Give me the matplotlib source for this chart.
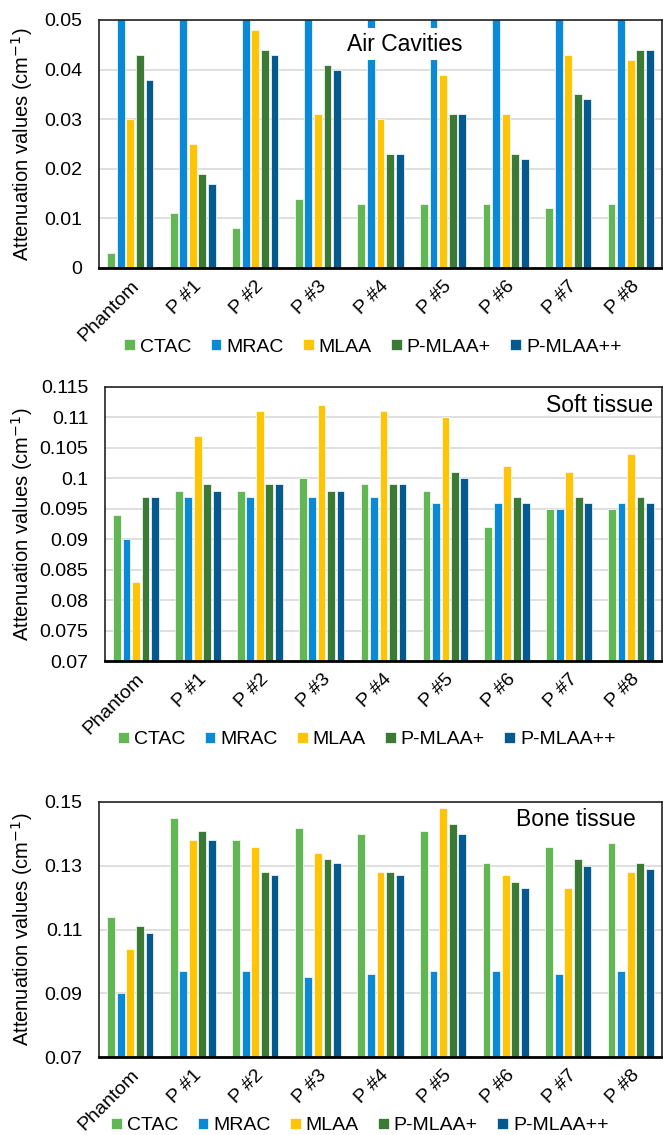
import numpy as np
import matplotlib
matplotlib.use("Agg")
import matplotlib.pyplot as plt

plt.rcParams['font.family'] = ['Liberation Sans', 'DejaVu Sans']

categories = ["Phantom", "P #1", "P #2", "P #3", "P #4", "P #5", "P #6", "P #7", "P #8"]
methods = ["CTAC", "MRAC", "MLAA", "P-MLAA+", "P-MLAA++"]
colors = ["#62B653", "#0A8AD6", "#FFC405", "#3B7A35", "#04598E"]

# air cavities (MRAC runs off the top of the axis)
air_ctac = [0.003, 0.011, 0.008, 0.014, 0.013, 0.013, 0.013, 0.012, 0.013]
air_mrac = [0.09, 0.09, 0.09, 0.09, 0.09, 0.09, 0.09, 0.09, 0.09]
air_mlaa = [0.030, 0.025, 0.048, 0.031, 0.030, 0.039, 0.031, 0.043, 0.042]
air_pmlaa = [0.043, 0.019, 0.044, 0.041, 0.023, 0.031, 0.023, 0.035, 0.044]
air_pmlaa2 = [0.038, 0.017, 0.043, 0.040, 0.023, 0.031, 0.022, 0.034, 0.044]

soft_ctac = [0.094, 0.098, 0.098, 0.100, 0.099, 0.098, 0.092, 0.095, 0.095]
soft_mrac = [0.090, 0.097, 0.097, 0.097, 0.097, 0.096, 0.096, 0.095, 0.096]
soft_mlaa = [0.083, 0.107, 0.111, 0.112, 0.111, 0.110, 0.102, 0.101, 0.104]
soft_pmlaa = [0.097, 0.099, 0.099, 0.098, 0.099, 0.101, 0.097, 0.097, 0.097]
soft_pmlaa2 = [0.097, 0.098, 0.099, 0.098, 0.099, 0.100, 0.096, 0.096, 0.096]

bone_ctac = [0.114, 0.145, 0.138, 0.142, 0.140, 0.141, 0.131, 0.136, 0.137]
bone_mrac = [0.090, 0.097, 0.097, 0.095, 0.096, 0.097, 0.097, 0.096, 0.097]
bone_mlaa = [0.104, 0.138, 0.136, 0.134, 0.128, 0.148, 0.127, 0.123, 0.128]
bone_pmlaa = [0.111, 0.141, 0.128, 0.132, 0.128, 0.143, 0.125, 0.132, 0.131]
bone_pmlaa2 = [0.109, 0.138, 0.127, 0.131, 0.127, 0.140, 0.123, 0.130, 0.129]

panels = [
    dict(data=[air_ctac, air_mrac, air_mlaa, air_pmlaa, air_pmlaa2],
         ylim=(0, 0.05), ticks=np.arange(0, 0.0501, 0.01),
         rect=[99/663, 1-268/1135, 563/663, 248/1135],
         title="Air Cavities", tpos=(0.5435, 0.903), ha='center', box=True,
         leg=(373/663, 1-347/1135)),
    dict(data=[soft_ctac, soft_mrac, soft_mlaa, soft_pmlaa, soft_pmlaa2],
         ylim=(0.07, 0.115), ticks=np.arange(0.07, 0.1151, 0.005),
         rect=[105/663, 1-661/1135, 557/663, 274/1135],
         title="Soft tissue", tpos=(0.984, 0.934), ha='right', box=False,
         leg=(367/663, 1-740/1135)),
    dict(data=[bone_ctac, bone_mrac, bone_mlaa, bone_pmlaa, bone_pmlaa2],
         ylim=(0.07, 0.15), ticks=np.arange(0.07, 0.1501, 0.02),
         rect=[99/663, 1-1057/1135, 563/663, 255/1135],
         title="Bone tissue", tpos=(0.953, 0.93), ha='right', box=False,
         leg=(360/663, 1-1126/1135)),
]

fig = plt.figure(figsize=(6.63, 11.35), dpi=100)
x = np.arange(len(categories))
pitch = 0.153
width = 0.125

for p in panels:
    ax = fig.add_axes(p["rect"])
    for i, (vals, c, m) in enumerate(zip(p["data"], colors, methods)):
        ax.bar(x + (i - 2) * pitch, vals, width, color=c, label=m,
               edgecolor='white', linewidth=0.5, zorder=2)
    ax.set_xlim(-0.5, len(categories) - 0.5)
    ax.set_ylim(*p["ylim"])
    ax.set_yticks(p["ticks"])
    ax.set_yticklabels(["%g" % round(t, 3) for t in p["ticks"]])
    ax.yaxis.grid(True, color='#D9D9D9', linewidth=1.2, zorder=0)
    ax.set_axisbelow(True)
    ax.tick_params(axis='y', length=0, pad=12, labelsize=14)
    ax.tick_params(axis='x', length=0, pad=7, labelsize=14)
    ax.set_xticks(x)
    ax.set_xticklabels(categories, rotation=45, ha='right', rotation_mode='anchor')
    for s in ['left', 'top', 'right']:
        ax.spines[s].set_linewidth(1.2)
        ax.spines[s].set_color('#222222')
    ax.spines['bottom'].set_linewidth(2)
    ax.spines['bottom'].set_color('black')
    ax.set_ylabel("Attenuation values (cm$^{-1}$)", fontsize=14.5)
    ax.yaxis.set_label_coords(-(p["rect"][0]*663 - 35) / (p["rect"][2]*663), 0.5)
    bb = dict(facecolor='white', edgecolor='none', pad=3) if p["box"] else None
    ax.text(p["tpos"][0], p["tpos"][1], p["title"], transform=ax.transAxes,
            ha=p["ha"], va='center', fontsize=16.5, bbox=bb, zorder=5)
    handles, labels = ax.get_legend_handles_labels()
    fig.legend(handles, labels, loc='center', bbox_to_anchor=p["leg"], ncol=5,
               frameon=False, fontsize=14, handlelength=0.55, handleheight=0.55,
               handletextpad=0.25, columnspacing=1.0, borderpad=0, borderaxespad=0)

fig.savefig("out.png", dpi=100)
